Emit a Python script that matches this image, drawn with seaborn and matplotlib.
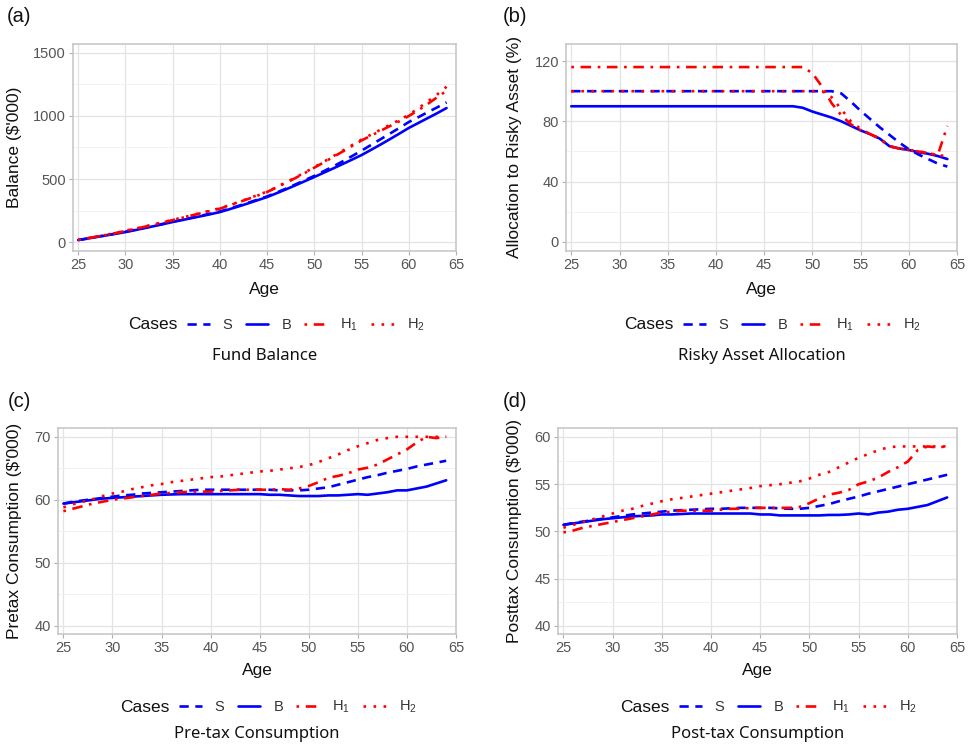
import numpy as np
import pandas as pd
import matplotlib
matplotlib.use("Agg")
import matplotlib.pyplot as plt
import seaborn as sns
from matplotlib.lines import Line2D
from matplotlib.ticker import MultipleLocator

# --- data ---
ages = list(range(25, 65))

balance_S = [16, 28, 42, 55, 68, 82, 97, 113, 129, 145, 162, 177, 193, 209, 225, 242, 265, 288, 312, 337,
             362, 392, 424, 457, 491, 525, 562, 600, 640, 682, 725, 770, 815, 860, 905, 952, 990, 1030, 1068, 1108]
balance_B = [16, 28, 41, 53, 66, 79, 94, 110, 126, 142, 159, 174, 190, 205, 221, 238, 260, 283, 307, 332,
             357, 387, 418, 450, 483, 516, 550, 584, 619, 654, 690, 731, 773, 816, 860, 905, 944, 983, 1022, 1063]
balance_H1 = [17, 30, 44, 57, 72, 88, 104, 121, 138, 156, 174, 192, 211, 229, 247, 265, 290, 316, 342, 369,
              397, 433, 470, 508, 548, 590, 632, 675, 718, 762, 806, 844, 882, 920, 958, 1000, 1045, 1095, 1148, 1200]
balance_H2 = [17, 30, 43, 58, 73, 90, 106, 122, 140, 158, 176, 194, 212, 231, 250, 268, 292, 318, 345, 373,
              400, 436, 474, 512, 552, 594, 637, 681, 725, 769, 813, 852, 891, 930, 968, 1010, 1060, 1115, 1170, 1232]

alloc_S = [100, 100, 100, 100, 100, 100, 100, 100, 100, 100, 100, 100, 100, 100, 100, 100, 100, 100, 100, 100,
           100, 100, 100, 100, 100, 100, 100, 100, 98.5, 93, 87, 81.5, 76, 71, 66, 61.5, 58, 55, 52, 50]
alloc_B = [90, 90, 90, 90, 90, 90, 90, 90, 90, 90, 90, 90, 90, 90, 90, 90, 90, 90, 90, 90,
           90, 90, 90, 90, 89, 86.5, 84.5, 82.5, 80, 77, 74, 71.5, 68.5, 63.5, 62, 61, 59.5, 58.5, 57, 55]
alloc_H1 = [116, 116, 116, 116, 116, 116, 116, 116, 116, 116, 116, 116, 116, 116, 116, 116, 116, 116, 116, 116,
            116, 116, 116, 116, 116, 112, 103, 92, 84, 78, 74, 71.5, 68.5, 63.5, 62, 61, 60, 59, 57.5, 77]
alloc_H2 = [100, 100, 100, 100, 100, 100, 100, 100, 100, 100, 100, 100, 100, 100, 100, 100, 100, 100, 100, 100,
            100, 100, 100, 100, 100, 100, 100, 96, 88, 80, 75, 71.5, 68.5, 63.5, 62, 61, 60, 59, 57.5, 57]

pretax_S = [59.4, 59.7, 59.9, 60.1, 60.3, 60.5, 60.7, 60.8, 61.0, 61.1, 61.2, 61.3, 61.4, 61.5, 61.6, 61.6, 61.6,
            61.6, 61.6, 61.6, 61.6, 61.6, 61.5, 61.5, 61.5, 61.6, 61.8, 62.0, 62.4, 62.8, 63.2, 63.6, 63.9, 64.3,
            64.6, 64.9, 65.3, 65.6, 65.9, 66.2]
pretax_B = [59.4, 59.6, 59.8, 60.0, 60.2, 60.3, 60.4, 60.5, 60.6, 60.7, 60.8, 60.85, 60.9, 60.9, 60.9, 60.9, 60.9,
            60.9, 60.9, 60.9, 60.9, 60.8, 60.8, 60.7, 60.6, 60.6, 60.6, 60.7, 60.7, 60.8, 60.9, 60.8, 61.0, 61.2,
            61.5, 61.5, 61.8, 62.1, 62.6, 63.1]
pretax_H1 = [58.2, 58.6, 59.0, 59.4, 59.7, 60.0, 60.2, 60.4, 60.6, 60.8, 61.0, 61.1, 61.2, 61.3, 61.3, 61.3, 61.4,
             61.5, 61.6, 61.6, 61.6, 61.6, 61.7, 61.6, 61.8, 62.2, 62.8, 63.5, 63.8, 64.2, 64.8, 65.1, 65.6, 66.4,
             67.2, 68.0, 69.1, 70.0, 69.8, 70.0]
pretax_H2 = [58.8, 59.3, 59.7, 60.1, 60.6, 61.0, 61.3, 61.7, 62.0, 62.3, 62.5, 62.8, 63.0, 63.2, 63.4, 63.6, 63.7,
             63.9, 64.1, 64.3, 64.5, 64.6, 64.8, 65.0, 65.2, 65.5, 66.0, 66.6, 67.2, 67.9, 68.5, 69.0, 69.5, 69.8,
             70.0, 70.0, 70.0, 70.0, 70.0, 70.0]

posttax_S = [50.7, 50.9, 51.05, 51.2, 51.35, 51.5, 51.65, 51.8, 51.9, 52.0, 52.1, 52.2, 52.25, 52.3, 52.35, 52.4,
             52.4, 52.45, 52.5, 52.5, 52.5, 52.5, 52.45, 52.4, 52.4, 52.5, 52.7, 52.9, 53.2, 53.45, 53.7, 54.0,
             54.25, 54.5, 54.75, 55.0, 55.25, 55.5, 55.75, 56.0]
posttax_B = [50.7, 50.85, 51.0, 51.15, 51.3, 51.4, 51.5, 51.6, 51.65, 51.7, 51.8, 51.8, 51.85, 51.9, 51.9, 51.9,
             51.9, 51.9, 51.9, 51.9, 51.8, 51.8, 51.7, 51.7, 51.7, 51.7, 51.7, 51.75, 51.75, 51.8, 51.9, 51.8,
             52.0, 52.1, 52.3, 52.4, 52.6, 52.8, 53.2, 53.6]
posttax_H1 = [49.9, 50.1, 50.4, 50.6, 50.8, 51.0, 51.2, 51.4, 51.6, 51.8, 52.0, 52.1, 52.2, 52.2, 52.2, 52.2, 52.3,
              52.4, 52.4, 52.5, 52.5, 52.5, 52.5, 52.5, 52.6, 53.0, 53.5, 53.9, 54.1, 54.4, 55.0, 55.3, 55.7, 56.3,
              56.8, 57.4, 58.6, 59.0, 58.9, 59.0]
posttax_H2 = [50.4, 50.7, 51.0, 51.3, 51.6, 51.9, 52.2, 52.4, 52.7, 52.95, 53.2, 53.4, 53.55, 53.7, 53.85, 54.0,
              54.15, 54.3, 54.45, 54.6, 54.8, 54.9, 55.0, 55.15, 55.3, 55.6, 56.0, 56.3, 56.8, 57.3, 57.8, 58.2,
              58.6, 58.9, 59.0, 59.0, 59.0, 59.0, 59.0, 59.0]

cases = ["S", "B", "H1", "H2"]
case_labels = ["S", "B", "H$_1$", "H$_2$"]

sns.set_theme(style="whitegrid")
plt.rcParams["font.family"] = ["Liberation Sans", "DejaVu Sans"]
plt.rcParams["mathtext.fontset"] = "custom"
plt.rcParams["mathtext.rm"] = "Liberation Sans"
plt.rcParams["mathtext.default"] = "regular"

line_styles = {
    "S": dict(color="#0000FF", linestyle=(0, (3.5, 2.5))),
    "B": dict(color="#0000FF", linestyle="-"),
    "H1": dict(color="#FF0000", linestyle=(0, (1, 2.5, 4, 2.5))),
    "H2": dict(color="#FF0000", linestyle=(0, (1, 2.8))),
}
LW = 1.9

W, H = 974, 745
fig = plt.figure(figsize=(W / 100, H / 100), dpi=100)


def fx(px):
    return px / W


def fy(py):
    return 1 - py / H


# tag, series, ylabel, caption, axes box in px (l, t, r, b), ylim, yticks, minor step,
# ylabel x, row, "Cases" x, tag x
panels = [
    ("(a)", [balance_S, balance_B, balance_H1, balance_H2], "Balance ($'000)", "Fund Balance",
     (73, 44, 456, 251), (-71, 1571), [0, 500, 1000, 1500], 250, 15, 0, 128, 7),
    ("(b)", [alloc_S, alloc_B, alloc_H1, alloc_H2], "Allocation to Risky Asset (%)", "Risky Asset Allocation",
     (566, 44, 957, 251), (-6, 131.3), [0, 40, 80, 120], 20, 515, 0, 624, 503),
    ("(c)", [pretax_S, pretax_B, pretax_H1, pretax_H2], "Pretax Consumption ($'000)", "Pre-tax Consumption",
     (58, 428, 456, 634), (38.7, 71.4), [40, 50, 60, 70], 5, 15, 1, 120, 8),
    ("(d)", [posttax_S, posttax_B, posttax_H1, posttax_H2], "Posttax Consumption ($'000)", "Post-tax Consumption",
     (558, 428, 957, 634), (39.15, 60.95), [40, 45, 50, 55, 60], 2.5, 515, 1, 620, 503),
]

row_y = {0: dict(tag=17, age=290, legend=325, caption=356),
         1: dict(tag=402, age=671, legend=707, caption=734)}

for tag, series, ylab, caption, box, ylim, yticks, minor, ylab_x, row, cases_x, tag_x in panels:
    l, t, r, b = box
    ax = fig.add_axes([fx(l), fy(b), fx(r - l), (b - t) / H])
    ax.set_facecolor("white")
    for name, vals in zip(cases, series):
        sns.lineplot(x=ages, y=vals, ax=ax, linewidth=LW, legend=False, **line_styles[name])
    ax.set_xlim(24.45, 65.0)
    ax.set_ylim(*ylim)
    ax.set_xticks([25, 30, 35, 40, 45, 50, 55, 60, 65])
    ax.set_yticks(yticks)
    ax.yaxis.set_minor_locator(MultipleLocator(minor))
    ax.grid(True, which="major", color="#e3e3e3", linewidth=0.9)
    ax.grid(True, which="minor", axis="y", color="#efefef", linewidth=0.6)
    ax.grid(False, which="minor", axis="x")
    for sp in ax.spines.values():
        sp.set_visible(True)
        sp.set_color("#c4c4c4")
        sp.set_linewidth(1.1)
    ax.tick_params(axis="both", which="major", length=3, width=0.8, color="#b0b0b0",
                   labelsize=10.5, labelcolor="#555555", pad=2, bottom=True, left=True)
    ax.tick_params(axis="both", which="minor", length=0)

    ax.set_xlabel("Age", fontsize=12.5, color="#111111", va="center")
    ax.xaxis.set_label_coords(0.5, (b - row_y[row]["age"]) / (b - t))
    ax.set_ylabel(ylab, fontsize=12.5, color="#111111", va="center")
    ax.yaxis.set_label_coords((ylab_x - l) / (r - l), 0.5)

    fig.text(fx(tag_x), fy(row_y[row]["tag"]), tag, fontsize=14.5, ha="left", va="center", color="#111111")

    # legend: "Cases" title on the left, keys in one row
    ly = fy(row_y[row]["legend"])
    fig.text(fx(cases_x), ly, "Cases", fontsize=12.5, ha="left", va="center", color="#111111")
    handles = [Line2D([], [], linewidth=LW, **line_styles[n]) for n in cases]
    fig.legend(handles, case_labels, loc="center left", bbox_to_anchor=(fx(cases_x + 59), ly),
               ncol=4, frameon=False, fontsize=10.5, handlelength=1.55, handletextpad=0.9,
               columnspacing=0.9, borderpad=0, borderaxespad=0,
               labelcolor="#333333")

    fig.text(fx((l + r) / 2), fy(row_y[row]["caption"]), caption, fontsize=12,
             family=["Noto Sans", "DejaVu Sans"], ha="center", va="center", color="#111111")

fig.savefig("out.png", dpi=100, facecolor="white")
